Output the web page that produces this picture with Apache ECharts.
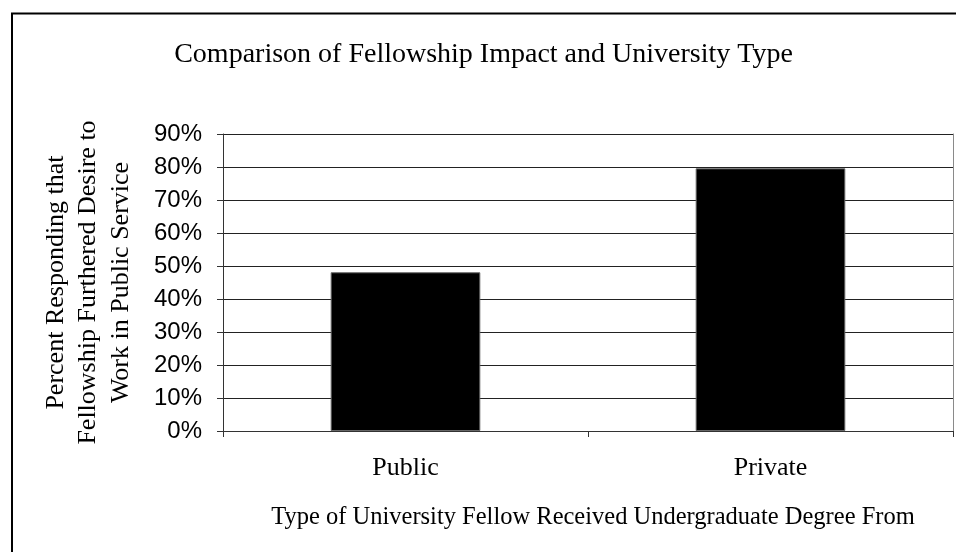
<!DOCTYPE html>
<html>
<head>
<meta charset="utf-8">
<title>Comparison of Fellowship Impact and University Type</title>
<script src="https://cdn.jsdelivr.net/npm/echarts@6/dist/echarts.min.js"></script>
<style>
  html, body { margin: 0; padding: 0; background: #fff; }
  #chart { width: 956px; height: 552px; }
</style>
</head>
<body>
<div id="chart"></div>
<script>
// University type categories and the share of fellows (percent) in each
const categories = ['Public', 'Private'];
const percentFurthered = [48.1, 79.6];
const yTicks = { min: 0, max: 90, interval: 10 };

const chartTitle = 'Comparison of Fellowship Impact and University Type';
const xAxisTitle = 'Type of University Fellow Received Undergraduate Degree From';
const yAxisTitle = 'Percent Responding that\nFellowship Furthered Desire to\nWork in Public Service';

const serif = '"Liberation Serif", "Times New Roman", serif';
const sans = '"Liberation Sans", Arial, sans-serif';

const chart = echarts.init(document.getElementById('chart'));

chart.setOption({
  animation: false,
  backgroundColor: '#ffffff',
  graphic: [
    {
      type: 'rect',
      shape: { x: 12, y: 13.5, width: 1000, height: 1000 },
      style: { fill: 'none', stroke: '#000', lineWidth: 2 },
      silent: true
    },
    {
      type: 'text',
      x: 483.5,
      y: 55,
      style: {
        text: chartTitle,
        font: '28px ' + serif,
        fill: '#000',
        textAlign: 'center',
        textVerticalAlign: 'middle'
      }
    }
  ],
  grid: {
    left: 223, right: 3, top: 134, bottom: 121,
    containLabel: false,
    outerBoundsMode: 'none'
  },
  xAxis: {
    type: 'category',
    data: categories,
    boundaryGap: true,
    name: xAxisTitle,
    nameLocation: 'middle',
    nameGap: 87,
    nameTextStyle: { fontFamily: serif, fontSize: 24.5, color: '#000', verticalAlign: 'middle', padding: [0, 0, 0, 10] },
    axisLine: { lineStyle: { color: '#333', width: 1 } },
    axisTick: { show: true, alignWithLabel: false, length: 6, lineStyle: { color: '#333' } },
    axisLabel: { fontFamily: serif, fontSize: 26, color: '#000', margin: 24 },
    splitLine: { show: false }
  },
  yAxis: [
    {
      type: 'value',
      min: yTicks.min,
      max: yTicks.max,
      interval: yTicks.interval,
      name: yAxisTitle,
      nameLocation: 'middle',
      nameRotate: 90,
      nameGap: 86,
      nameTextStyle: { fontFamily: serif, fontSize: 26, color: '#000', lineHeight: 32.5, align: 'center' },
      axisLine: { show: true, lineStyle: { color: '#333', width: 1 } },
      axisTick: { show: true, length: 6, lineStyle: { color: '#333' } },
      axisLabel: { fontFamily: sans, fontSize: 24, color: '#000', margin: 21, formatter: '{value}%' },
      splitLine: { show: true, lineStyle: { color: '#222', width: 1 } }
    },
    {
      type: 'value',
      position: 'right',
      min: yTicks.min,
      max: yTicks.max,
      interval: yTicks.interval,
      axisLine: { show: true, lineStyle: { color: '#8a8a8a', width: 1 } },
      axisTick: { show: false },
      axisLabel: { show: false },
      splitLine: { show: false }
    }
  ],
  series: [
    {
      type: 'bar',
      data: percentFurthered,
      barWidth: '41%',
      itemStyle: { color: '#000', borderColor: '#666', borderWidth: 1 }
    }
  ]
});
</script>
</body>
</html>
